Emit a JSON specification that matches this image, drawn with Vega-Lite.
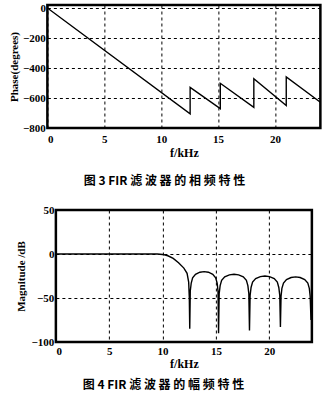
{
  "$schema": "https://vega.github.io/schema/vega-lite/v6.json",
  "background": "white",
  "padding": {"left": 7, "top": 0, "right": 0, "bottom": 0},
  "spacing": 13,
  "center": true,
  "datasets": {
    "phase": [
      {"f": 0, "deg": 0, "i": 0},
      {"f": 12.55, "deg": -705, "i": 1},
      {"f": 12.55, "deg": -529, "i": 2},
      {"f": 15.2, "deg": -671, "i": 3},
      {"f": 15.2, "deg": -502, "i": 4},
      {"f": 18.15, "deg": -662, "i": 5},
      {"f": 18.15, "deg": -472, "i": 6},
      {"f": 21.0, "deg": -650, "i": 7},
      {"f": 21.0, "deg": -460, "i": 8},
      {"f": 24.0, "deg": -628, "i": 9}
    ],
    "mag": [
      {"f": 0, "db": 0, "i": 0},
      {"f": 9.5, "db": 0, "i": 1},
      {"f": 10.0, "db": -0.5, "i": 2},
      {"f": 10.5, "db": -2, "i": 3},
      {"f": 11.0, "db": -5, "i": 4},
      {"f": 11.5, "db": -10, "i": 5},
      {"f": 12.0, "db": -16, "i": 6},
      {"f": 12.3, "db": -22, "i": 7},
      {"f": 12.45, "db": -32, "i": 8},
      {"f": 12.51, "db": -50, "i": 9},
      {"f": 12.55, "db": -85, "i": 10},
      {"f": 12.6, "db": -42, "i": 11},
      {"f": 12.69, "db": -33, "i": 12},
      {"f": 12.82, "db": -27, "i": 13},
      {"f": 13.09, "db": -23, "i": 14},
      {"f": 13.5, "db": -20.7, "i": 15},
      {"f": 13.9, "db": -20, "i": 16},
      {"f": 14.3, "db": -20.7, "i": 17},
      {"f": 14.71, "db": -23, "i": 18},
      {"f": 14.98, "db": -27, "i": 19},
      {"f": 15.12, "db": -33, "i": 20},
      {"f": 15.2, "db": -42, "i": 21},
      {"f": 15.25, "db": -90, "i": 22},
      {"f": 15.31, "db": -45, "i": 23},
      {"f": 15.4, "db": -36, "i": 24},
      {"f": 15.54, "db": -30, "i": 25},
      {"f": 15.83, "db": -26, "i": 26},
      {"f": 16.27, "db": -23.7, "i": 27},
      {"f": 16.7, "db": -23, "i": 28},
      {"f": 17.13, "db": -23.7, "i": 29},
      {"f": 17.57, "db": -26, "i": 30},
      {"f": 17.86, "db": -30, "i": 31},
      {"f": 18.0, "db": -36, "i": 32},
      {"f": 18.09, "db": -45, "i": 33},
      {"f": 18.15, "db": -87, "i": 34},
      {"f": 18.21, "db": -47, "i": 35},
      {"f": 18.3, "db": -38, "i": 36},
      {"f": 18.44, "db": -32, "i": 37},
      {"f": 18.73, "db": -28, "i": 38},
      {"f": 19.17, "db": -25.7, "i": 39},
      {"f": 19.6, "db": -25, "i": 40},
      {"f": 20.03, "db": -25.7, "i": 41},
      {"f": 20.47, "db": -28, "i": 42},
      {"f": 20.76, "db": -32, "i": 43},
      {"f": 20.9, "db": -38, "i": 44},
      {"f": 20.99, "db": -47, "i": 45},
      {"f": 21.05, "db": -83, "i": 46},
      {"f": 21.11, "db": -48, "i": 47},
      {"f": 21.19, "db": -39, "i": 48},
      {"f": 21.34, "db": -33, "i": 49},
      {"f": 21.62, "db": -29, "i": 50},
      {"f": 22.05, "db": -26.7, "i": 51},
      {"f": 22.48, "db": -26, "i": 52},
      {"f": 22.9, "db": -26.7, "i": 53},
      {"f": 23.33, "db": -29, "i": 54},
      {"f": 23.62, "db": -33, "i": 55},
      {"f": 23.76, "db": -39, "i": 56},
      {"f": 23.84, "db": -48, "i": 57},
      {"f": 23.92, "db": -75, "i": 58}
    ]
  },
  "vconcat": [
    {
      "width": 273,
      "height": 123,
      "data": {"name": "phase"},
      "title": {"text": "图  3   FIR  滤 波 器 的 相 频 特 性", "orient": "bottom", "anchor": "middle", "frame": "bounds", "offset": 18},
      "mark": {"type": "line", "color": "black", "strokeWidth": 1.4, "clip": true},
      "encoding": {
        "x": {"field": "f", "type": "quantitative", "scale": {"domain": [0, 24], "nice": false, "zero": false},
              "axis": {"title": "f/kHz", "values": [0, 5, 10, 15, 20], "labelPadding": 5, "titlePadding": 3}},
        "y": {"field": "deg", "type": "quantitative", "scale": {"domain": [-800, 20], "nice": false, "zero": false},
              "axis": {"title": "Phase(degrees)", "values": [0, -200, -400, -600, -800], "labelPadding": 2, "titlePadding": 3}},
        "order": {"field": "i", "type": "quantitative"}
      }
    },
    {
      "width": 256,
      "height": 132,
      "data": {"name": "mag"},
      "title": {"text": "图  4   FIR  滤 波 器 的 幅 频 特 性", "orient": "bottom", "anchor": "middle", "frame": "bounds", "offset": 11},
      "mark": {"type": "line", "color": "black", "strokeWidth": 1.4, "clip": true},
      "encoding": {
        "x": {"field": "f", "type": "quantitative", "scale": {"domain": [0, 24], "nice": false, "zero": false},
              "axis": {"title": "f/kHz", "values": [0, 5, 10, 15, 20], "labelPadding": 3, "titlePadding": 2}},
        "y": {"field": "db", "type": "quantitative", "scale": {"domain": [-100, 50], "nice": false, "zero": false},
              "axis": {"title": "Magnitude /dB", "values": [50, 0, -50, -100], "labelPadding": 2, "titlePadding": 5}},
        "order": {"field": "i", "type": "quantitative"}
      }
    }
  ],
  "config": {
    "view": {"stroke": "black", "strokeWidth": 2.5},
    "axis": {
      "grid": true,
      "gridColor": "black",
      "gridDash": [3, 3],
      "gridWidth": 1,
      "gridOpacity": 1,
      "domain": false,
      "ticks": false,
      "labelFont": "Liberation Serif",
      "labelFontWeight": "bold",
      "labelFontSize": 11,
      "labelColor": "black",
      "titleFont": "Liberation Serif",
      "titleFontWeight": "bold",
      "titleFontSize": 11,
      "titleColor": "black"
    },
    "axisX": {"titleFontSize": 12},
    "title": {
      "font": "Noto Sans CJK SC",
      "fontWeight": "bold",
      "fontSize": 12,
      "color": "black"
    }
  }
}
